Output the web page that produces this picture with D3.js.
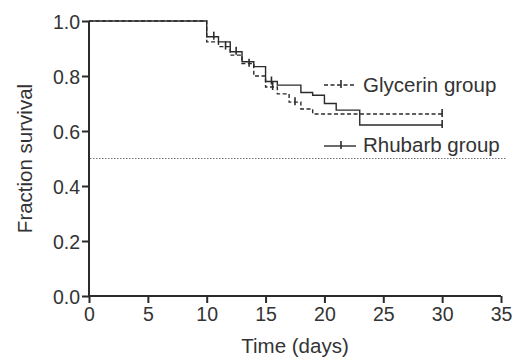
<!DOCTYPE html>
<html><head><meta charset="utf-8">
<script src="https://cdn.jsdelivr.net/npm/d3@7"></script>
<style>body{margin:0;background:#fff}svg{display:block}</style>
</head><body>
<script>
const xTicks = [0,5,10,15,20,25,30,35];
const yTicks = [0,0.2,0.4,0.6,0.8,1.0];
const seriesNames = ["Glycerin group","Rhubarb group"];
// Kaplan-Meier steps: [day, fraction surviving]
const glycerinSteps = [[0,1.0],[10,0.924],[11,0.907],[12,0.876],[13,0.845],[14,0.80],[15,0.76],[16,0.735],[17,0.705],[18,0.68],[19,0.662],[30,0.662]];
const rhubarbSteps = [[0,1.0],[10,0.943],[11,0.924],[12,0.888],[13,0.852],[14,0.834],[15,0.78],[16,0.767],[18,0.74],[19,0.73],[20,0.70],[21,0.676],[23,0.622],[30,0.622]];
const glycerinCensored = [[11.6,0.907],[13.6,0.845],[15.6,0.76],[17.5,0.705],[30,0.662]];
const rhubarbCensored = [[10.6,0.943],[12.5,0.888],[15.5,0.78],[30,0.622]];
const refLevel = 0.5;

const W=519,H=357;
const svg=d3.select("body").append("svg").attr("width",W).attr("height",H);
const x=d3.scaleLinear().domain([0,35]).range([89,501]);
const y=d3.scaleLinear().domain([0,1]).range([296,21]);
const ink="#2b2b2b";
const font="Liberation Sans, Arial, sans-serif";

// reference line
svg.append("line").attr("x1",x(0)+1).attr("x2",x(35)+6).attr("y1",y(refLevel)).attr("y2",y(refLevel))
  .attr("stroke","#777").attr("stroke-width",1.2).attr("stroke-dasharray","1.5,1.5");

// axes
const xa=svg.append("g").attr("transform",`translate(0,${y(0)})`)
  .call(d3.axisBottom(x).tickValues(xTicks).tickSize(7).tickPadding(4).tickFormat(d3.format("d")));
const ya=svg.append("g").attr("transform",`translate(${x(0)},0)`)
  .call(d3.axisLeft(y).tickValues(yTicks).tickSize(7).tickPadding(2).tickFormat(d3.format(".1f")));
[xa,ya].forEach(g=>{
  g.select(".domain").attr("stroke",ink).attr("stroke-width",2);
  g.selectAll(".tick line").attr("stroke",ink).attr("stroke-width",2);
  g.selectAll("text").attr("fill","#333").attr("font-family",font).attr("font-size",19.5);
});
ya.selectAll("text").attr("dy","0.36em");
xa.select(".domain").attr("d",`M${x(0)},0H${x(35)}`);
ya.select(".domain").attr("d",`M0,${y(1)}V${y(0)}`);

svg.append("text").attr("x",(x(0)+x(35))/2).attr("y",353).attr("text-anchor","middle")
  .attr("font-family",font).attr("font-size",20.5).attr("fill","#333").text("Time (days)");
svg.append("text").attr("transform",`translate(32,${(y(0)+y(1))/2}) rotate(-90)`).attr("text-anchor","middle")
  .attr("font-family",font).attr("font-size",20.5).attr("fill","#333").text("Fraction survival");

const line=d3.line().x(d=>x(d[0])).y(d=>y(d[1])).curve(d3.curveStepAfter);
svg.append("path").datum(glycerinSteps).attr("d",line).attr("fill","none").attr("stroke",ink)
  .attr("stroke-width",1.4).attr("stroke-dasharray","4,2.5");
svg.append("path").datum(rhubarbSteps).attr("d",line).attr("fill","none").attr("stroke",ink)
  .attr("stroke-width",1.4);

function ticks(data){
  svg.append("g").selectAll("line").data(data).join("line")
    .attr("x1",d=>x(d[0])).attr("x2",d=>x(d[0]))
    .attr("y1",d=>y(d[1])-5).attr("y2",d=>y(d[1])+3)
    .attr("stroke",ink).attr("stroke-width",1.6);
}
ticks(glycerinCensored); ticks(rhubarbCensored);

// legend
const leg=[{name:seriesNames[0],dash:"4,2.5",ly:85,ty:92},{name:seriesNames[1],dash:null,ly:146,ty:152}];
leg.forEach(l=>{
  svg.append("line").attr("x1",324).attr("x2",356).attr("y1",l.ly).attr("y2",l.ly)
    .attr("stroke",ink).attr("stroke-width",1.4).attr("stroke-dasharray",l.dash);
  svg.append("line").attr("x1",341).attr("x2",341).attr("y1",l.ly-5).attr("y2",l.ly+3)
    .attr("stroke",ink).attr("stroke-width",1.6);
  svg.append("text").attr("x",363).attr("y",l.ty).attr("font-family",font).attr("font-size",20.5)
    .attr("fill","#333").text(l.name);
});
</script>
</body></html>
